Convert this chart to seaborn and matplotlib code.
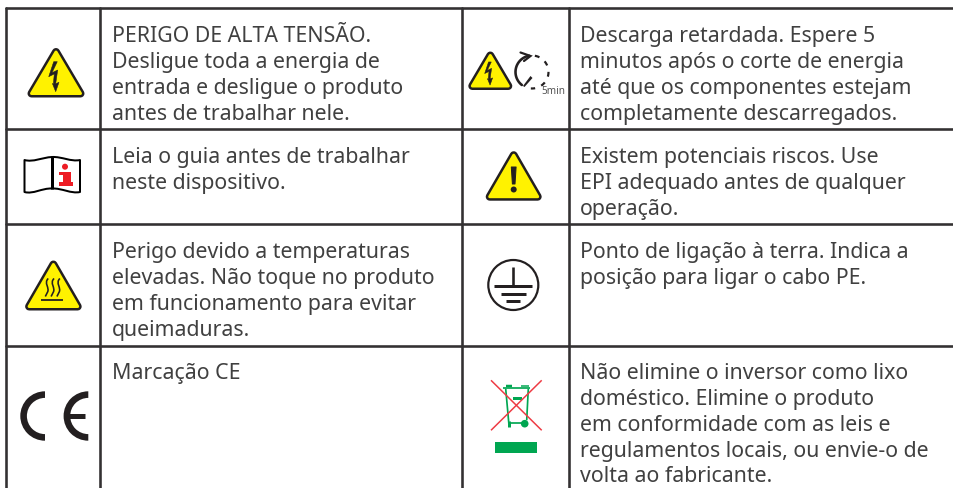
import numpy as np
import pandas as pd
import matplotlib
matplotlib.use("Agg")
import matplotlib.pyplot as plt
from matplotlib.patches import Polygon, Wedge, Circle, Rectangle, PathPatch
from matplotlib.path import Path
import seaborn as sns

# ---------- content ----------
left_texts = [
    ["PERIGO DE ALTA TENSÃO.", "Desligue toda a energia de", "entrada e desligue o produto", "antes de trabalhar nele."],
    ["Leia o guia antes de trabalhar", "neste dispositivo."],
    ["Perigo devido a temperaturas", "elevadas. Não toque no produto", "em funcionamento para evitar", "queimaduras."],
    ["Marcação CE"],
]
right_texts = [
    ["Descarga retardada. Espere 5", "minutos após o corte de energia", "até que os componentes estejam", "completamente descarregados."],
    ["Existem potenciais riscos. Use", "EPI adequado antes de qualquer", "operação."],
    ["Ponto de ligação à terra. Indica a", "posição para ligar o cabo PE."],
    ["Não elimine o inversor como lixo", "doméstico. Elimine o produto", "em conformidade com as leis e", "regulamentos locais, ou envie-o de", "volta ao fabricante."],
]
timer_label = "5min"

# ---------- layout (pixels) ----------
W, H = 954, 488
col_edges = [6.5, 100.5, 462, 569.5]
row_edges = [8, 129, 223.5, 346]
first_baselines = [42.2, 163.2, 258.2, 379.2]
line_step = 25.8
left_x, right_x = 112, 580
TEXT = "#404040"
RULE = "#333132"
INK = "#231f20"
YELLOW = "#fff200"
RED = "#ed1c24"
GREEN = "#00a651"


def px(v):
    return v * 0.72


sns.set_theme(style="white")
plt.rcParams["font.family"] = ["Noto Sans", "DejaVu Sans"]

fig, ax = plt.subplots(figsize=(W / 100, H / 100), dpi=100)
fig.subplots_adjust(0, 0, 1, 1)

# table rules through seaborn
rows = []
for i, x in enumerate(col_edges):
    rows += [dict(rule=f"v{i}", x=x, y=row_edges[0]), dict(rule=f"v{i}", x=x, y=H)]
for i, y in enumerate(row_edges):
    rows += [dict(rule=f"h{i}", x=col_edges[0], y=y), dict(rule=f"h{i}", x=W + 2, y=y)]
rules = pd.DataFrame(rows)
sns.lineplot(data=rules, x="x", y="y", units="rule", estimator=None, sort=False,
             color=RULE, linewidth=px(2.6), ax=ax, legend=False, zorder=1)
ax.set_xlim(0, W)
ax.set_ylim(H, 0)
ax.axis("off")

# text
for texts, x in ((left_texts, left_x), (right_texts, right_x)):
    for base, lines in zip(first_baselines, texts):
        for k, line in enumerate(lines):
            ax.text(x, base + k * line_step, line, fontsize=15.35, color=TEXT,
                    ha="left", va="baseline", family=["Noto Sans", "DejaVu Sans"])


def triangle(cx, top, bottom, w):
    verts = [(cx, top + 4.5), (cx + w - 4, bottom - 4), (cx - w + 4, bottom - 4)]
    ax.add_patch(Polygon(verts, closed=True, fc=INK, ec=INK, lw=px(8), joinstyle="round", zorder=3))
    ax.add_patch(Polygon(verts, closed=True, fc=YELLOW, ec=YELLOW, lw=px(3), joinstyle="round", zorder=4))


def bolt(cx, top, w):
    s = w / 28.5
    shape = [(1.3, 14.2), (-2.3, 14.2), (-7.3, 29.2), (-1.7, 26.5), (-2.7, 36.8), (-3.7, 35.8),
             (-0.3, 44.2), (3.0, 34.8), (-0.3, 36.2), (1.7, 22.5), (-4.0, 25.2)]
    ax.add_patch(Polygon([(cx + a * s, top + b * s) for a, b in shape], closed=True,
                         fc=INK, ec=INK, lw=px(0.5), zorder=5))


def seg(x0, y0, x1, y1, lw, color=INK, cap="butt", z=5):
    ax.plot([x0, x1], [y0, y1], color=color, lw=px(lw), solid_capstyle=cap, zorder=z)


# high voltage
triangle(56, 47.5, 97.5, 28.5)
bolt(56, 47.5, 28.5)

# book
book = Path(
    [(24.5, 160), (33, 162.5), (42, 157.5), (52, 157),
     (62, 156.5), (71, 162), (80, 160),
     (80, 192),
     (71, 194), (62, 188), (52, 188.5),
     (42, 188), (33, 194.5), (24.5, 192),
     (24.5, 160)],
    [Path.MOVETO, Path.CURVE4, Path.CURVE4, Path.CURVE4,
     Path.CURVE4, Path.CURVE4, Path.CURVE4,
     Path.LINETO,
     Path.CURVE4, Path.CURVE4, Path.CURVE4,
     Path.CURVE4, Path.CURVE4, Path.CURVE4,
     Path.CLOSEPOLY])
ax.add_patch(PathPatch(book, fc="white", ec="black", lw=px(2), zorder=3, joinstyle="round"))
seg(52, 156.5, 52, 189, 3, color="black")
ax.add_patch(Circle((65, 166.7), 3, fc=RED, ec="none", zorder=5))
ax.add_patch(Rectangle((59, 171.7), 11.7, 3.5, fc=RED, ec="none", zorder=5))
ax.add_patch(Rectangle((62.7, 171.7), 8, 11, fc=RED, ec="none", zorder=5))
ax.add_patch(Rectangle((59, 182), 14, 3.8, fc=RED, ec="none", zorder=5))

# hot surface
triangle(53.4, 260, 310.5, 28.3)
for xc in (46.8, 52.6, 58.4):
    wave = Path(
        [(xc + 1.5, 278.5), (xc - 3.5, 283), (xc + 3.5, 288), (xc + 0.5, 292.5), (xc - 0.2, 294), (xc - 1, 295.5), (xc - 1.5, 296.5)],
        [Path.MOVETO, Path.CURVE4, Path.CURVE4, Path.CURVE4, Path.CURVE4, Path.CURVE4, Path.CURVE4])
    ax.add_patch(PathPatch(wave, fc="none", ec=INK, lw=px(1.6), zorder=5))
seg(41, 300, 63, 300, 1.8)

# CE mark
ax.add_patch(Wedge((45, 416), 24.7, 90, 270, width=6.6, fc=INK, ec="none", zorder=3))
ax.add_patch(Wedge((88.3, 416), 24.7, 90, 270, width=6.6, fc=INK, ec="none", zorder=3))
seg(68, 416, 85, 416, 5)

# delayed discharge
triangle(490.3, 51, 90, 22)
bolt(490.3, 51, 22)
cx, cy, r = 532, 72, 16.5
arc_t = np.deg2rad(np.arange(-100, -238, -6))
ax.plot(cx + r * np.cos(arc_t), cy + r * np.sin(arc_t), color=INK, lw=px(2.6), zorder=5, solid_capstyle="round")
dash_t = np.deg2rad(np.arange(-80, 100, 6))
ax.plot(cx + r * np.cos(dash_t), cy + r * np.sin(dash_t), color=INK, lw=px(2.2),
        linestyle=(0, (2.2, 3)), zorder=5)
ax.plot([520.5, 530.5, 524], [52.5, 56, 61], color=INK, lw=px(2.2), zorder=6, solid_joinstyle="miter")
ax.add_patch(Polygon([(523, 86), (530.5, 76), (532.5, 78), (524.5, 87)], closed=True, fc=INK, ec="none", zorder=5))
ax.text(541.5, 94, timer_label, fontsize=7.2, color="#555555", ha="left", va="baseline",
        family=["Noto Sans", "DejaVu Sans"], zorder=6)

# general warning
triangle(513.7, 150.7, 200.7, 28)
ax.add_patch(Polygon([(511.3, 167), (516.1, 167), (515, 184), (512.4, 184)], closed=True, fc=INK, ec=INK,
                     lw=px(1), joinstyle="round", zorder=5))
ax.add_patch(Circle((513.7, 189.5), 3, fc=INK, ec="none", zorder=5))

# protective earth
ax.add_patch(Circle((513.3, 285), 25, fc="none", ec=INK, lw=px(2.2), zorder=3))
seg(513.3, 266.7, 513.3, 286, 2.6)
seg(494, 286.3, 532, 286.3, 3)
seg(501, 294.3, 526, 294.3, 3)
seg(506, 301.3, 520, 301.3, 3)

# WEEE bin
for a in ((503.3, 387.7, 530, 387.7), (505.7, 388.7, 509, 425.3), (528.3, 388.7, 526.7, 420.3),
          (509, 422.7, 524.3, 422.7)):
    seg(*a, 1.7, color=GREEN, z=3)
seg(506, 385.5, 512, 385.5, 2.5, color=GREEN, z=3)
seg(521, 385.5, 529, 385.5, 1.5, color=GREEN, z=3)
seg(509, 421, 509, 427, 3, color=GREEN, z=3)
ax.add_patch(Circle((524.7, 423.7), 3.8, fc=GREEN, ec="none", zorder=3))
ax.add_patch(Rectangle((512.7, 397), 9.6, 3, fc=GREEN, ec="none", zorder=3))
ax.add_patch(Rectangle((495, 442), 42, 11, fc=GREEN, ec="none", zorder=3))
seg(491, 380.3, 541.7, 430.3, 1.5, color="#ee3a43")
seg(541.7, 380.3, 491, 430.3, 1.5, color="#ee3a43")

fig.savefig("out.png", dpi=100)
